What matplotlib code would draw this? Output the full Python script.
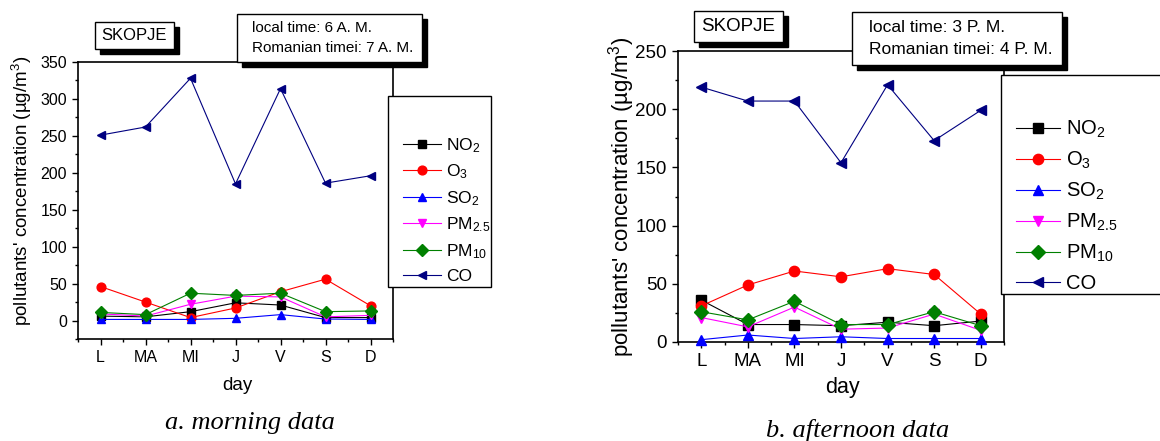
import matplotlib
matplotlib.use("Agg")
import matplotlib.pyplot as plt
from matplotlib.patches import Rectangle
from matplotlib.ticker import MultipleLocator

plt.rcParams['font.family'] = ['Liberation Sans', 'DejaVu Sans']
plt.rcParams['mathtext.fontset'] = 'custom'
plt.rcParams['mathtext.rm'] = 'Liberation Sans'
plt.rcParams['mathtext.it'] = 'Liberation Sans'

days = ['L', 'MA', 'MI', 'J', 'V', 'S', 'D']
labels = ['NO$_2$', 'O$_3$', 'SO$_2$', 'PM$_{2.5}$', 'PM$_{10}$', 'CO']

# morning (6 A.M.)
no2_am = [6, 5, 12, 24, 21, 4, 4]
o3_am = [46, 25, 4, 17, 39, 56, 20]
so2_am = [1.5, 1.5, 1.5, 3, 8, 2, 1.5]
pm25_am = [9, 6, 22, 33, 32, 5, 7]
pm10_am = [11, 8, 37, 34, 37, 12, 13]
co_am = [251, 262, 328, 185, 314, 186, 196]

# afternoon (3 P.M.)
no2_pm = [36, 15, 15, 14, 17, 14, 18]
o3_pm = [31, 49, 61, 56, 63, 58, 24]
so2_pm = [2, 6, 3, 4.5, 3, 3, 3]
pm25_pm = [21, 13, 30, 11, 12, 24, 10]
pm10_pm = [26, 19, 35, 15, 15, 26, 14]
co_pm = [219, 207, 207, 154, 221, 173, 199]

colors = ['black', 'red', 'blue', 'magenta', 'green', '#000080']
markers = ['s', 'o', '^', 'v', 'D', '<']

W, H = 1160, 441
fig = plt.figure(figsize=(W / 100, H / 100), dpi=100)


def fx(x):
    return x / W


def fy(y):
    return 1 - y / H


def px_axes(l, t, r, b):
    return fig.add_axes([fx(l), fy(b), (r - l) / W, (b - t) / H])


def shadow_box(l, t, r, b, off=5):
    fig.patches.append(Rectangle((fx(l + off), fy(b + off)), (r - l) / W, (b - t) / H,
                                 transform=fig.transFigure, facecolor='black',
                                 edgecolor='black', zorder=5))
    fig.patches.append(Rectangle((fx(l), fy(b)), (r - l) / W, (b - t) / H,
                                 transform=fig.transFigure, facecolor='white',
                                 edgecolor='black', lw=1, zorder=6))


def panel(box, series, fs, ylab, xlab, leg):
    ax = px_axes(*box)
    lines = []
    for s, lab, c, m in zip(series, labels, colors, markers):
        ln, = ax.plot(range(len(days)), s, color=c, marker=m, ms=fs * 0.55,
                      lw=0.8, label=lab, clip_on=False, zorder=3)
        lines.append(ln)
    ax.set_xlim(-0.5, 6.5)
    ax.set_xticks(range(len(days)))
    ax.set_xticklabels(days)
    ax.xaxis.set_minor_locator(MultipleLocator(0.5))
    ax.yaxis.set_major_locator(MultipleLocator(50))
    ax.yaxis.set_minor_locator(MultipleLocator(25))
    ax.tick_params(which='both', direction='out', top=False, right=False,
                   labelsize=fs, width=1)
    ax.tick_params(which='major', length=4, pad=4)
    ax.tick_params(which='minor', length=2.5)
    for sp in ax.spines.values():
        sp.set_linewidth(1.2)
    fig.text(fx(ylab[0]), fy(ylab[1]),
             "pollutants' concentration (µg/m$^3$)", rotation=90,
             ha='center', va='center', fontsize=ylab[2])
    fig.text(fx(xlab[0]), fy(xlab[1]), 'day', ha='center', va='center',
             fontsize=xlab[2])
    # legend frame drawn separately (box has empty space on top)
    l, t, r, b, hx, hy, lfs, lsp = leg
    fig.patches.append(Rectangle((fx(l), fy(b)), (r - l) / W, (b - t) / H,
                                 transform=fig.transFigure, facecolor='white',
                                 edgecolor='black', lw=1, zorder=4))
    lg = fig.legend(handles=lines, loc='upper left',
                    bbox_to_anchor=(fx(hx), fy(hy)),
                    bbox_transform=fig.transFigure, frameon=False,
                    fontsize=lfs, borderpad=0, borderaxespad=0,
                    handlelength=2.2, handletextpad=0.3, labelspacing=lsp)
    lg.set_zorder(7)
    return ax


ax1 = panel((78, 62, 393, 339),
            [no2_am, o3_am, so2_am, pm25_am, pm10_am, co_am],
            11.5, (22, 191, 13.5), (237, 385, 13.5),
            (388, 96, 491, 287, 403, 136, 12.5, 0.45))
ax1.set_ylim(-25, 350)

ax2 = panel((678, 51, 1004, 342),
            [no2_pm, o3_pm, so2_pm, pm25_pm, pm10_pm, co_pm],
            13.5, (622, 197, 16), (842, 387, 15.5),
            (1001, 75, 1175, 294, 1016, 119, 14.5, 0.48))
ax2.set_ylim(0, 250)

# title boxes
shadow_box(95, 22, 174, 49)
fig.text(fx(134.5), fy(35.5), 'SKOPJE', ha='center', va='center', fontsize=12, zorder=8)
shadow_box(237, 14, 422, 62)
fig.text(fx(252), fy(28), 'local time: 6 A. M.', ha='left', va='center', fontsize=11, zorder=8)
fig.text(fx(252), fy(48), 'Romanian timei: 7 A. M.', ha='left', va='center', fontsize=11, zorder=8)

shadow_box(694, 11, 783, 42)
fig.text(fx(738.5), fy(26.5), 'SKOPJE', ha='center', va='center', fontsize=13.5, zorder=8)
shadow_box(852, 12, 1062, 65)
fig.text(fx(869), fy(27), 'local time: 3 P. M.', ha='left', va='center', fontsize=12.5, zorder=8)
fig.text(fx(869), fy(49), 'Romanian timei: 4 P. M.', ha='left', va='center', fontsize=12.5, zorder=8)

# captions
fig.text(fx(250), fy(423), 'a. morning data', ha='center', va='center',
         fontsize=19, family='Liberation Serif', style='italic')
fig.text(fx(858), fy(430), 'b. afternoon data', ha='center', va='center',
         fontsize=19, family='Liberation Serif', style='italic')

fig.savefig('out.png', dpi=100)
